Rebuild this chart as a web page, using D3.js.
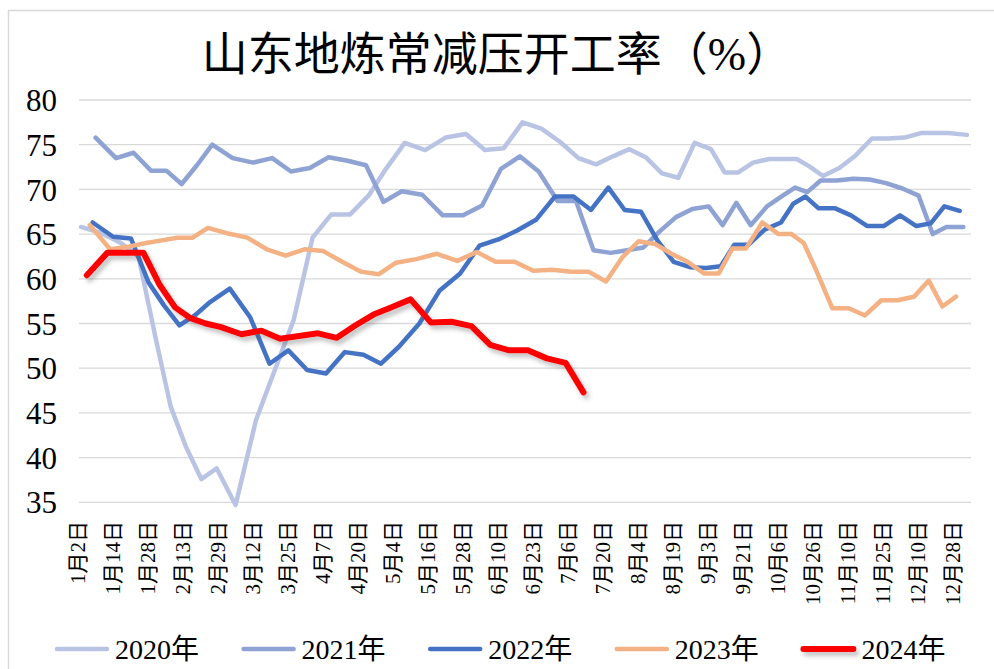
<!DOCTYPE html>
<meta charset="utf-8">
<script src="https://d3js.org/d3.v7.min.js"></script>
<style>
  body { margin: 0; background: #fff; }
  text { font-family: "Liberation Serif", "Noto Sans CJK SC", serif; fill: #000; }
</style>
<body>
<div id="chart"></div>
<script>

// x-axis labels (every second category of the original sheet)
var tickLabels = ["1月2日", "1月14日", "1月28日", "2月13日", "2月29日", "3月12日", "3月25日", "4月7日",
  "4月20日", "5月4日", "5月16日", "5月28日", "6月10日", "6月23日", "7月6日", "7月20日", "8月4日",
  "8月19日", "9月3日", "9月21日", "10月6日", "10月26日", "11月10日", "11月25日", "12月10日", "12月28日"];
var yTicks = [35, 40, 45, 50, 55, 60, 65, 70, 75, 80];

var years = ["2020年", "2021年", "2022年", "2023年", "2024年"];
// first weekly (Thursday) reading of each year
var firstDates = ["2020-01-02", "2021-01-07", "2022-01-06", "2023-01-05", "2024-01-04"];
var colors = ["#b9c4e4", "#8fa2d4", "#4472c4", "#f4b183", "#ff0000"];

var v2020 = [65.8, 65.1, 64.0, 62.5, 53.5, 45.7, 41.2, 37.6, 38.8, 34.7, 44.2, 49.8, 55.4, 64.6, 67.2, 67.2,
  69.3, 72.3, 75.2, 74.4, 75.8, 76.2, 74.4, 74.6, 77.5, 76.8, 75.3, 73.5, 72.8, 73.7, 74.5, 73.6, 71.8, 71.3,
  75.2, 74.5, 71.9, 71.9, 73.0, 73.4, 73.4, 73.4, 72.6, 71.5, 72.4, 73.8, 75.7, 75.7, 75.8, 76.3, 76.3, 76.3, 76.1];
var v2021 = [75.8, 73.5, 74.1, 72.1, 72.1, 70.6, 72.7, 75.0, 73.5, 73.0, 73.5, 72.0, 72.4, 73.6, 73.2, 72.7,
  68.6, 69.8, 69.4, 67.1, 67.1, 68.2, 72.3, 73.7, 72.0, 68.7, 68.7, 63.2, 62.9, 63.2, 63.5, 65.3, 66.9, 67.8,
  68.1, 66.0, 68.5, 66.0, 68.1, 69.3, 70.2, 69.7, 71.0, 71.0, 71.2, 71.1, 70.7, 70.1, 69.3, 65.0, 65.8, 65.8];
var v2022 = [66.3, 64.7, 64.5, 59.6, 57.0, 54.8, 55.9, 57.4, 58.9, 55.7, 50.5, 52.0, 49.8, 49.4, 51.8, 51.5,
  50.5, 52.4, 55.0, 58.7, 60.6, 63.7, 64.4, 65.4, 66.6, 69.2, 69.2, 67.7, 70.2, 67.7, 67.5, 64.3, 61.9, 61.3,
  61.2, 61.4, 63.8, 63.8, 65.5, 66.3, 68.4, 69.2, 67.9, 67.9, 67.1, 65.9, 65.9, 67.1, 65.9, 66.2, 68.1, 67.6];
var v2023 = [66.0, 63.3, 63.6, 64.0, 64.3, 64.6, 64.6, 65.7, 65.1, 64.6, 63.3, 62.6, 63.3, 63.1, 61.9, 60.8,
  60.5, 61.8, 62.2, 62.8, 62.0, 63.0, 61.9, 61.9, 60.9, 61.0, 60.8, 60.8, 59.7, 62.4, 64.2, 63.9, 62.8, 61.9,
  60.6, 60.6, 63.4, 63.4, 66.3, 65.0, 65.0, 64.0, 61.0, 56.7, 56.7, 55.9, 57.6, 57.6, 58.0, 59.8, 56.9, 58.0];
var v2024 = [60.4, 62.9, 62.9, 62.9, 59.3, 56.8, 55.6, 55.0, 54.6, 53.8, 54.2, 53.3, 53.6, 53.9, 53.4, 54.8,
  56.0, 56.8, 57.7, 55.1, 55.2, 54.7, 52.6, 52.0, 52.0, 51.1, 50.6, 47.3];
var values = [v2020, v2021, v2022, v2023, v2024];

(function () {
  var W = 994, H = 669;
  var plotL = 79, plotR = 971, plotT = 100, plotB = 502.3;
  var step = 35, x0 = plotL + 2;

  var svg = d3.select("#chart").append("svg")
    .attr("width", W).attr("height", H);

  var defs = svg.append("defs");
  var f = defs.append("filter").attr("id", "shadow")
    .attr("filterUnits", "userSpaceOnUse")
    .attr("x", -1000).attr("y", -1000).attr("width", 3000).attr("height", 3000);
  f.append("feDropShadow").attr("dx", 3).attr("dy", 4).attr("stdDeviation", 2)
    .attr("flood-color", "#555").attr("flood-opacity", 0.35);

  // chart border
  svg.append("rect").attr("x", 8.5).attr("y", 10.5).attr("width", 1000).attr("height", 700)
    .attr("fill", "none").attr("stroke", "#d9d9d9").attr("stroke-width", 1.5);

  // category positions follow the label dates (all years share one calendar)
  function toCal(dt) { return new Date(2024, dt.getMonth(), dt.getDate()); }
  var labelDates = tickLabels.map(function (s) {
    var m = s.match(/(\d+)月(\d+)日/);
    return new Date(2024, +m[1] - 1, +m[2]);
  });
  var x = d3.scaleTime()
    .domain(labelDates.concat([new Date(2024, 11, 31)]))
    .range(tickLabels.map(function (d, i) { return x0 + i * step; }).concat([plotR - 4]));

  var y = d3.scaleLinear().domain([35, 80]).range([plotB, plotT]);

  // gridlines
  svg.append("g").selectAll("line").data(yTicks).enter().append("line")
    .attr("x1", plotL).attr("x2", plotR)
    .attr("y1", function (d) { return y(d); }).attr("y2", function (d) { return y(d); })
    .attr("stroke", "#d9d9d9").attr("stroke-width", 1.3);

  // y labels
  svg.append("g").selectAll("text").data(yTicks).enter().append("text")
    .attr("x", 57).attr("y", function (d) { return y(d); }).attr("dy", "0.36em")
    .attr("text-anchor", "end").style("font-size", "31px")
    .text(function (d) { return d; });

  // x labels, rotated
  svg.append("g").selectAll("text").data(tickLabels).enter().append("text")
    .attr("transform", function (d, i) { return "translate(" + (x(labelDates[i]) - 4) + ",521)rotate(-90)"; })
    .attr("dy", "0.36em").attr("text-anchor", "end").style("font-size", "21px")
    .text(function (d) { return d; });

  // series
  var line = d3.line()
    .x(function (d) { return x(d.date); })
    .y(function (d) { return y(d.value); });

  years.forEach(function (yr, k) {
    var start = d3.timeParse("%Y-%m-%d")(firstDates[k]);
    var pts = values[k].map(function (v, i) {
      return { date: toCal(d3.timeDay.offset(start, 7 * i)), value: v };
    });
    svg.append("path").datum(pts)
      .attr("d", line)
      .attr("fill", "none")
      .attr("stroke", colors[k])
      .attr("stroke-width", k === 4 ? 6 : 4.5)
      .attr("stroke-linejoin", "round")
      .attr("stroke-linecap", "round")
      .attr("filter", k === 4 ? "url(#shadow)" : null);
  });

  // title
  svg.append("text").attr("x", W / 2).attr("y", 70).attr("text-anchor", "middle")
    .style("font-size", "46px").text("山东地炼常减压开工率（%）");

  // legend
  var lg = svg.append("g").selectAll("g").data(years).enter().append("g")
    .attr("transform", function (d, i) { return "translate(" + (57 + i * 186.6) + ",649)"; });
  lg.append("line").attr("x1", 0).attr("x2", 50).attr("y1", 0).attr("y2", 0)
    .attr("stroke", function (d, i) { return colors[i]; })
    .attr("stroke-width", function (d, i) { return i === 4 ? 6 : 4.5; })
    .attr("stroke-linecap", "round")
    .attr("filter", function (d, i) { return i === 4 ? "url(#shadow)" : null; });
  lg.append("text").attr("x", 58).attr("y", 0).attr("dy", "0.36em")
    .style("font-size", "28px").text(function (d) { return d; });
})();

</script>
</body>
